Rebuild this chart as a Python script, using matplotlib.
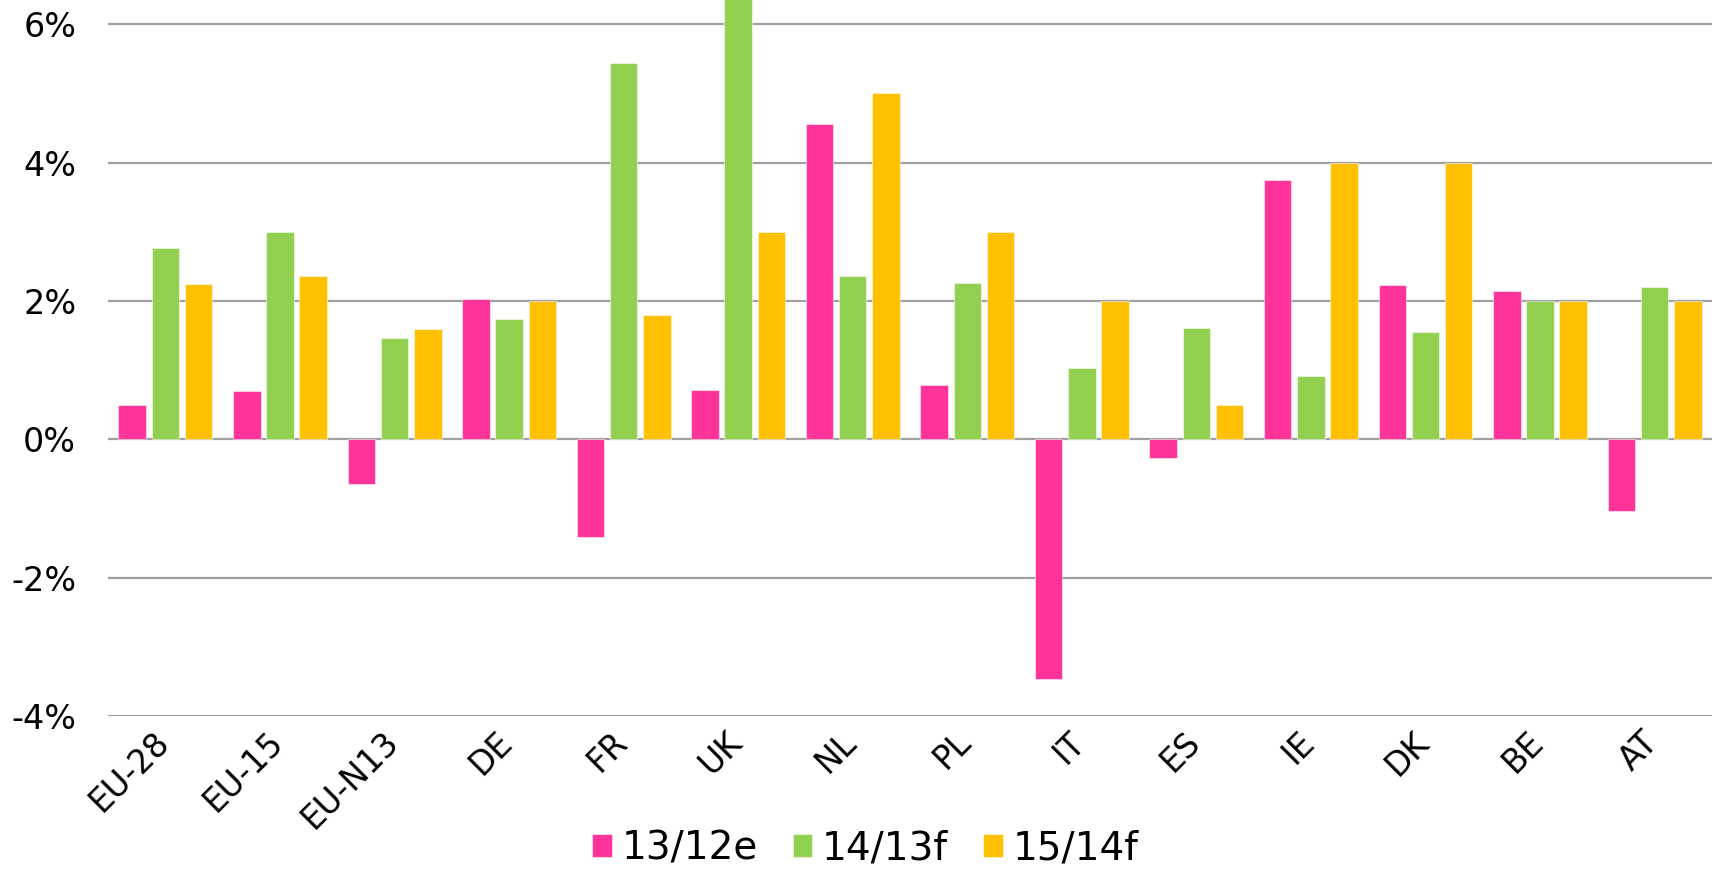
import numpy as np
import matplotlib
matplotlib.use("Agg")
import matplotlib.pyplot as plt
import matplotlib.transforms as mtransforms
from matplotlib.ticker import FuncFormatter

# Growth rates (%)
countries = ["EU-28", "EU-15", "EU-N13", "DE", "FR", "UK", "NL",
             "PL", "IT", "ES", "IE", "DK", "BE", "AT"]
g_13_12e = [0.49, 0.70, -0.65, 2.03, -1.41, 0.71, 4.56,
            0.79, -3.47, -0.27, 3.75, 2.23, 2.14, -1.04]
g_14_13f = [2.77, 2.99, 1.46, 1.74, 5.44, 6.60, 2.36,
            2.26, 1.03, 1.61, 0.92, 1.55, 2.00, 2.20]
g_15_14f = [2.25, 2.36, 1.60, 2.00, 1.79, 3.00, 5.00,
            3.00, 2.00, 0.50, 4.00, 4.00, 2.00, 2.00]
series_names = ["13/12e", "14/13f", "15/14f"]
colors = ["#FF3399", "#92D050", "#FFC000"]

plt.rcParams["font.family"] = ["DejaVu Sans"]

fig = plt.figure(figsize=(17.17, 8.69), dpi=100)
ax = fig.add_axes([0.063, 0.176, 0.934, 0.824])

x = np.arange(len(countries))
width = 0.24
step = 0.29
for i, (vals, name, c) in enumerate(zip([g_13_12e, g_14_13f, g_15_14f], series_names, colors)):
    ax.bar(x + (i - 1) * step, vals, width, color=c, label=name,
           edgecolor=(1, 1, 1, 0.5), linewidth=0.8, zorder=3)

ax.set_xlim(-0.5, len(countries) - 0.5)
ax.set_ylim(-4, 6.35)
ax.set_yticks([-4, -2, 0, 2, 4, 6])
ax.yaxis.set_major_formatter(FuncFormatter(lambda v, p: f"{v:.0f}%"))
ax.grid(axis="y", color="#A0A0A0", linewidth=1.6, zorder=0)
ax.set_axisbelow(True)
for s in ax.spines.values():
    s.set_visible(False)
ax.tick_params(axis="y", length=0, pad=23, labelsize=24)
ax.tick_params(axis="x", length=0, pad=15, labelsize=23.5)
ax.set_xticks(x)
ax.set_xticklabels(countries, rotation=45, ha="right", va="center", rotation_mode="anchor")
# nudge the rotated labels slightly left so they end under the tick
shift = mtransforms.ScaledTranslation(-1 / 72, 0, fig.dpi_scale_trans)
for lbl in ax.get_xticklabels():
    lbl.set_transform(lbl.get_transform() + shift)

fig.legend(loc="lower center", bbox_to_anchor=(0.504, -0.038), ncol=3, frameon=False,
           fontsize=28, handlelength=0.5, handleheight=0.55, handletextpad=0.25,
           columnspacing=0.9)

fig.savefig("out.png", dpi=100)
